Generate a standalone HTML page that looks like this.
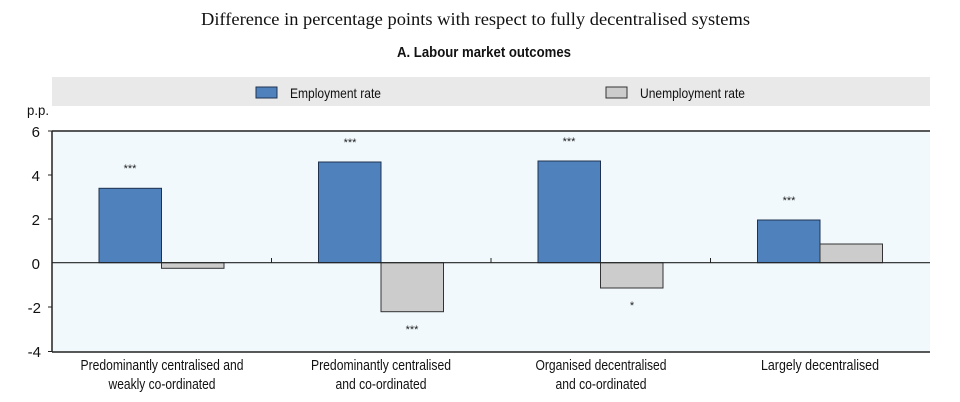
<!DOCTYPE html>
<html><head><meta charset="utf-8"><style>
html,body{margin:0;padding:0;background:#fff;}
svg{display:block;font-family:"Liberation Sans",Arial,sans-serif;}
</style></head><body>
<svg width="960" height="402" viewBox="0 0 960 402" xmlns="http://www.w3.org/2000/svg">
<text x="475.5" y="25" text-anchor="middle" font-family="Liberation Serif,serif" font-size="18" fill="#111" textLength="549" lengthAdjust="spacingAndGlyphs">Difference in percentage points with respect to fully decentralised systems</text>
<text x="484" y="57" text-anchor="middle" font-size="15" font-weight="bold" fill="#111" textLength="174" lengthAdjust="spacingAndGlyphs">A. Labour market outcomes</text>
<rect x="52" y="77" width="878" height="29" fill="#e9e9e9"/>
<rect x="256" y="87" width="21" height="11" fill="#4f81bd" stroke="#1f3350" stroke-width="1"/>
<text x="290" y="98" font-size="14" fill="#111" textLength="91" lengthAdjust="spacingAndGlyphs">Employment rate</text>
<rect x="606" y="87" width="21" height="11" fill="#cccccc" stroke="#333" stroke-width="1"/>
<text x="640" y="98" font-size="14" fill="#111" textLength="105" lengthAdjust="spacingAndGlyphs">Unemployment rate</text>
<rect x="52" y="131" width="878" height="221" fill="#f1f9fc"/>
<text x="27" y="115" font-size="14" fill="#111" textLength="22" lengthAdjust="spacingAndGlyphs">p.p.</text>
<g font-size="15" fill="#111" text-anchor="end">
<text x="40" y="137">6</text><text x="40" y="181">4</text><text x="40" y="225">2</text>
<text x="40" y="269">0</text><text x="41" y="313">-2</text><text x="41" y="357">-4</text>
</g>
<g stroke="#222" stroke-width="1">
<line x1="48" y1="131" x2="52" y2="131"/><line x1="48" y1="175" x2="52" y2="175"/>
<line x1="48" y1="219" x2="52" y2="219"/><line x1="48" y1="307" x2="52" y2="307"/>
<line x1="48" y1="351.5" x2="52" y2="351.5"/>
</g>
<g stroke="#1f3350" stroke-width="1" fill="#4f81bd">
<rect x="99" y="188.3" width="62.5" height="74.4"/>
<rect x="318.5" y="162" width="62.5" height="100.7"/>
<rect x="538" y="161" width="62.5" height="101.7"/>
<rect x="757.5" y="220" width="62.5" height="42.7"/>
</g>
<g stroke="#333" stroke-width="1" fill="#cccccc">
<rect x="161.5" y="262.7" width="62.5" height="5.6"/>
<rect x="381" y="262.7" width="62.5" height="49"/>
<rect x="600.5" y="262.7" width="62.5" height="25.3"/>
<rect x="820" y="244" width="62.5" height="18.7"/>
</g>
<line x1="52" y1="262.7" x2="930" y2="262.7" stroke="#222" stroke-width="1.2"/>
<g stroke="#222" stroke-width="1">
<line x1="271.5" y1="258" x2="271.5" y2="262.7"/><line x1="491" y1="258" x2="491" y2="262.7"/><line x1="710.5" y1="258" x2="710.5" y2="262.7"/>
</g>
<line x1="52" y1="131" x2="930" y2="131" stroke="#222" stroke-width="1.5"/>
<line x1="52" y1="131" x2="52" y2="352" stroke="#222" stroke-width="1.5"/>
<line x1="52" y1="352" x2="930" y2="352" stroke="#222" stroke-width="1.5"/>
<g font-size="11" fill="#222" text-anchor="middle">
<text x="130" y="172">***</text><text x="350" y="146">***</text><text x="569" y="145">***</text>
<text x="789" y="204">***</text><text x="412" y="333">***</text><text x="632" y="309">*</text>
</g>
<g font-size="14.5" fill="#111" text-anchor="middle" lengthAdjust="spacingAndGlyphs">
<text x="162" y="370" textLength="163" lengthAdjust="spacingAndGlyphs">Predominantly centralised and</text>
<text x="162" y="389" textLength="107" lengthAdjust="spacingAndGlyphs">weakly co-ordinated</text>
<text x="381" y="370" textLength="140" lengthAdjust="spacingAndGlyphs">Predominantly centralised</text>
<text x="381" y="389" textLength="91" lengthAdjust="spacingAndGlyphs">and co-ordinated</text>
<text x="601" y="370" textLength="131" lengthAdjust="spacingAndGlyphs">Organised decentralised</text>
<text x="601" y="389" textLength="91" lengthAdjust="spacingAndGlyphs">and co-ordinated</text>
<text x="820" y="370" textLength="118" lengthAdjust="spacingAndGlyphs">Largely decentralised</text>
</g>
</svg>
</body></html>
